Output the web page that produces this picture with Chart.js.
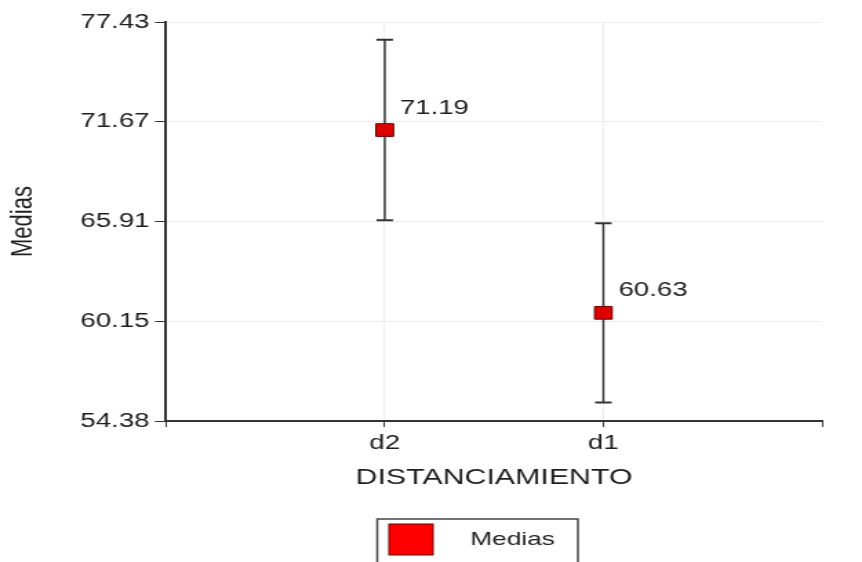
<!DOCTYPE html>
<html><head><meta charset="utf-8">
<script src="https://cdn.jsdelivr.net/npm/chart.js@4"></script>
<style>
html,body{margin:0;padding:0;background:#fff;overflow:hidden;}
#wrap{width:625px;height:562px;transform:scaleX(1.3792);transform-origin:0 0;}
</style></head><body>
<div id="wrap"><canvas id="c" width="625" height="562" style="width:625px;height:562px"></canvas></div>
<script>
const categories = ['d2', 'd1'];
const means = [71.19, 60.63];
const lowerCI = [65.97, 55.45];
const upperCI = [76.41, 65.81];
const yTickValues = [54.38, 60.15, 65.91, 71.67, 77.43];
const seriesName = 'Medias';
const xTitle = 'DISTANCIAMIENTO';
const yTitle = 'Medias';

const FAMILY = '"Liberation Sans", Arial, sans-serif';
const TEXT = '#1e1e1e';

const errorBars = {
  id: 'errorBars',
  beforeDatasetsDraw(chart) {
    const {ctx, scales: {x, y}} = chart;
    ctx.save();
    ctx.strokeStyle = '#333';
    categories.forEach((c, i) => {
      const px = x.getPixelForValue(i + 1);
      const yt = y.getPixelForValue(upperCI[i]);
      const yb = y.getPixelForValue(lowerCI[i]);
      ctx.lineWidth = 1.5;
      ctx.beginPath(); ctx.moveTo(px, yt); ctx.lineTo(px, yb); ctx.stroke();
      ctx.lineWidth = 2;
      ctx.beginPath();
      ctx.moveTo(px - 6, yt); ctx.lineTo(px + 6, yt);
      ctx.moveTo(px - 6, yb); ctx.lineTo(px + 6, yb);
      ctx.stroke();
    });
    ctx.restore();
  }
};

const valueLabels = {
  id: 'valueLabels',
  afterDatasetsDraw(chart) {
    const {ctx, scales: {x, y}} = chart;
    ctx.save();
    ctx.fillStyle = TEXT;
    ctx.font = '20px ' + FAMILY;
    ctx.textAlign = 'left';
    ctx.textBaseline = 'middle';
    categories.forEach((c, i) => {
      const px = x.getPixelForValue(i + 1);
      const py = y.getPixelForValue(means[i]);
      ctx.fillText(means[i].toFixed(2), px + 11, py - 22);
    });
    ctx.restore();
  }
};

const boxLegend = {
  id: 'boxLegend',
  afterDraw(chart) {
    const {ctx} = chart;
    ctx.save();
    ctx.strokeStyle = '#444';
    ctx.lineWidth = 1.5;
    ctx.strokeRect(273.5, 519, 145.5, 60);
    ctx.fillStyle = '#ff0000';
    ctx.fillRect(282, 524, 32, 31);
    ctx.strokeStyle = '#6a0000';
    ctx.lineWidth = 1;
    ctx.strokeRect(282, 524, 32, 31);
    ctx.fillStyle = TEXT;
    ctx.font = '19px ' + FAMILY;
    ctx.textAlign = 'left';
    ctx.textBaseline = 'middle';
    ctx.fillText(chart.data.datasets[0].label, 341, 540);
    ctx.restore();
  }
};

new Chart(document.getElementById('c'), {
  type: 'scatter',
  data: {
    datasets: [{
      label: seriesName,
      data: categories.map((c, i) => ({x: i + 1, y: means[i]})),
      pointStyle: 'rect',
      pointRadius: 9,
      pointHoverRadius: 9,
      backgroundColor: '#dd0000',
      borderColor: '#6a0000',
      borderWidth: 1,
      showLine: false
    }]
  },
  options: {
    responsive: false,
    animation: false,
    layout: {padding: {left: 0, right: 29, top: 22, bottom: 71}},
    plugins: {legend: {display: false}, tooltip: {enabled: false}},
    scales: {
      x: {
        type: 'linear', min: 0, max: 3,
        afterBuildTicks: s => { s.ticks = [0, 1, 2, 3].map(v => ({value: v})); },
        ticks: {
          callback: v => categories[v - 1] ?? '',
          font: {size: 20, family: FAMILY}, color: TEXT, padding: 4,
          maxRotation: 0, autoSkip: false
        },
        grid: {
          color: c => (c.tick && (c.tick.value === 1 || c.tick.value === 2)) ? '#ececec' : 'rgba(0,0,0,0)',
          tickColor: '#333', tickLength: 6, lineWidth: 1
        },
        border: {color: '#333', width: 2},
        title: {display: true, text: xTitle, font: {size: 22, family: FAMILY}, color: TEXT, padding: {top: 0, bottom: 0}},
        afterFit: s => { s.height = 70; }
      },
      y: {
        type: 'linear', min: yTickValues[0], max: yTickValues[yTickValues.length - 1],
        afterBuildTicks: s => { s.ticks = yTickValues.map(v => ({value: v})); },
        ticks: {
          callback: v => Number(v).toFixed(2),
          font: {size: 20, family: FAMILY}, color: TEXT, padding: 4
        },
        grid: {color: '#ececec', tickColor: '#333', tickLength: 8, lineWidth: 1},
        border: {color: '#333', width: 2},
        title: {display: true, text: yTitle, font: {size: 22, family: FAMILY}, color: TEXT, padding: {top: 3.5, bottom: 0}},
        afterFit: s => { s.width = 120.4; }
      }
    }
  },
  plugins: [errorBars, valueLabels, boxLegend]
});
</script>
</body></html>
